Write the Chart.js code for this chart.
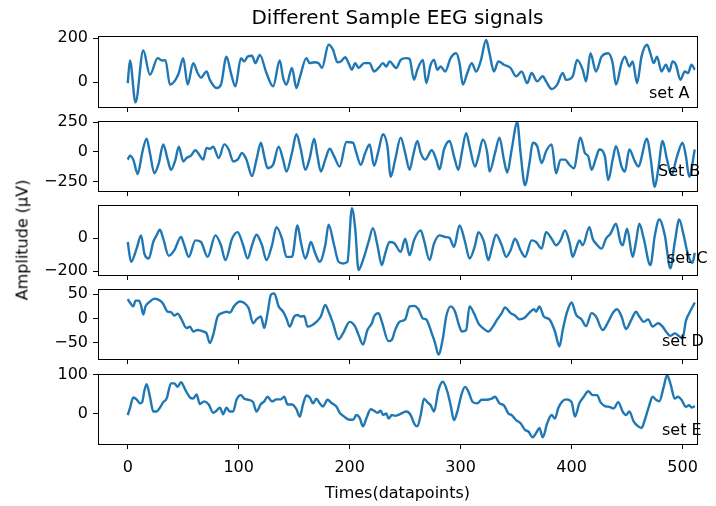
<!DOCTYPE html>
<html>
<head>
<meta charset="utf-8">
<script src="https://cdn.jsdelivr.net/npm/chart.js@4.4.1/dist/chart.umd.min.js"></script>
<style>
  html, body { margin: 0; padding: 0; background: #fff; }
  body { width: 716px; height: 506px; position: relative; overflow: hidden; font-family: "DejaVu Sans", sans-serif; }
  .panel { position: absolute; left: 0; width: 716px; }
  .tag { position: absolute; font-size: 16px; line-height: 16px; color: #000; white-space: nowrap; }
  #ylab { position: absolute; left: 22px; top: 240px; font-size: 16px; white-space: nowrap; color: #000;
          transform: translate(-50%, -50%) rotate(-90deg); }
</style>
</head>
<body>
<div class="panel" style="top:0px;height:115px"><canvas id="pA"></canvas></div>
<div class="panel" style="top:111px;height:88px"><canvas id="pB"></canvas></div>
<div class="panel" style="top:195px;height:88px"><canvas id="pC"></canvas></div>
<div class="panel" style="top:279px;height:88px"><canvas id="pD"></canvas></div>
<div class="panel" style="top:364px;height:142px"><canvas id="pE"></canvas></div>
<div id="ylab">Amplitude (μV)</div>
<div class="tag" style="left:649px;top:85px">set A</div>
<div class="tag" style="left:658px;top:163px">Set B</div>
<div class="tag" style="left:667px;top:250px">set C</div>
<div class="tag" style="left:662px;top:333px">set D</div>
<div class="tag" style="left:662px;top:422px">set E</div>
<script>
// values (datapoint index -> amplitude in µV)
var aX = [0,2,7,14,20,27,31,34,38,43,46,50,54,59,63,66,71,74,80,84,89,93,97,102,105,108,112,115,119,125,131,137,140,143,148,152,155,161,164,168,172,175,181,185,189,192,196,199,202,205,208,213,218,222,226,230,233,236,242,246,251,254,258,261,266,269,273,276,279,282,286,291,296,299,302,306,310,314,318,323,326,330,334,339,345,350,355,360,364,369,374,377,382,387,392,395,401,405,410,413,417,422,427,433,437,440,445,448,452,455,459,463,468,471,474,477,481,485,488,491,494,498,502,505,508,511];
var aY = [-5,98,-93,144,33,109,98,100,-12,10,41,109,-12,86,41,20,48,10,-27,-12,116,41,-20,109,94,116,120,86,124,41,-20,98,20,-12,64,-27,20,109,86,90,86,64,170,147,90,94,113,86,56,86,64,86,86,48,64,86,71,94,64,101,109,105,10,56,101,-5,79,101,56,71,48,109,131,86,-12,41,86,48,94,192,131,48,94,79,64,26,48,-5,41,3,26,3,-32,-12,41,10,26,101,56,3,131,48,116,131,86,-12,86,116,71,94,-5,116,170,131,86,116,48,79,48,94,79,10,48,41,79,56];

var bX = [0,2,5,9,13,17,20,24,28,32,36,39,43,46,50,53,57,61,65,68,71,74,77,82,87,91,95,99,103,107,112,116,120,123,126,131,136,140,143,148,152,156,160,164,168,171,174,178,182,186,191,197,203,206,210,214,218,222,226,230,234,237,241,246,250,254,257,261,264,268,274,278,281,285,290,294,298,301,305,308,313,316,320,324,326,331,335,339,342,346,351,354,358,362,365,369,373,377,382,386,390,394,398,402,408,412,415,418,422,425,430,433,437,440,445,448,452,457,460,468,471,475,478,482,486,490,495,500,503,506,511];
var bY = [-66,-32,-66,-187,-9,112,-9,-181,-95,63,-66,-152,-66,43,-81,-52,-32,14,-32,-66,34,26,43,-52,63,20,-81,-66,-9,-66,-204,-66,77,-38,-138,-109,43,-66,-167,-9,149,20,-152,-52,112,-38,-167,-66,26,-38,-124,83,77,-9,-109,-9,63,-118,11,149,48,-210,-66,120,-9,-152,-38,92,-9,-66,14,-66,-147,20,92,-38,-152,-9,158,48,-124,-38,106,-9,-167,-9,120,-66,-175,20,250,-9,-282,-95,77,48,-95,5,63,-181,-66,-66,-109,-138,120,-9,-38,-152,-52,20,-38,-239,-66,48,-124,-167,20,-81,-124,112,-38,-296,-152,92,-66,-196,-38,77,-38,-210,20];

var cX = [0,3,8,12,15,19,23,26,29,32,37,42,48,51,55,61,66,72,79,84,88,94,99,104,108,112,116,121,125,130,134,139,143,148,153,156,160,162,165,169,173,178,181,186,190,194,198,202,205,208,212,217,221,225,229,232,236,240,246,250,254,258,264,267,272,276,281,286,290,294,299,304,308,313,316,321,325,328,332,337,341,345,349,354,358,364,368,373,377,382,386,390,394,398,401,404,407,410,416,419,422,427,431,435,440,444,446,450,455,458,461,465,471,475,479,484,489,493,497,501,505,509,511];
var cY = [-24,-144,-64,16,-94,-124,-24,16,50,-4,-108,-74,6,-44,-114,-14,-24,-114,16,-44,-134,-4,36,-44,-124,-44,20,-44,-134,-44,66,-4,-114,-114,76,-24,-124,-94,-24,-94,-144,-44,80,-44,-144,-154,-144,180,56,-194,-134,-24,60,-44,-164,-94,-24,-30,-84,-4,-104,-14,46,-14,-134,-34,16,6,0,-54,76,-24,-124,-44,36,-24,-134,-64,20,-44,-114,-74,-4,-74,-114,-14,-24,-64,36,-4,-44,-14,46,-24,-114,-64,-14,-44,66,-4,-34,-64,-4,26,86,-24,-44,56,-114,-24,86,-4,-164,16,112,16,-184,-24,112,16,-104,-150,-90];

var dX = [0,2,5,7,10,12,14,16,20,24,29,32,36,39,42,45,48,53,56,59,63,68,71,74,77,81,85,89,92,96,101,105,109,113,116,120,123,126,129,132,136,140,143,146,150,153,156,159,162,166,170,174,178,181,185,190,194,200,205,208,212,216,220,222,226,229,235,238,241,245,250,254,258,262,266,269,274,277,280,284,287,291,295,298,301,305,308,312,316,320,325,329,333,337,340,345,349,353,358,362,366,368,371,375,380,385,389,392,396,400,404,409,413,418,422,428,433,437,441,445,449,454,458,461,465,469,473,478,482,485,489,493,497,500,503,506,511];
var dY = [40,33,25,37,37,27,8,25,35,41,37,30,14,13,6,10,0,-20,-17,-27,-24,-27,-31,-51,-34,4,11,14,12,26,35,32,21,-10,-2,4,-20,11,49,52,25,14,0,-17,4,7,4,5,-17,-14,-7,4,28,14,-10,-43,-31,-7,-17,-34,-54,-24,-10,4,11,-7,-47,-44,-24,-7,-2,25,26,19,0,-2,-31,-51,-75,-41,4,25,14,-10,-27,-24,25,11,-10,-20,-27,-17,-2,11,23,11,6,-2,2,12,19,14,25,4,-2,-27,-58,-24,14,33,8,-2,-16,11,4,-24,-7,11,19,4,-22,-2,14,4,-7,-2,-17,-10,-17,-27,-36,-31,-37,-41,-5,11,33];

var eX = [0,2,5,8,11,13,15,17,20,23,26,29,32,35,39,42,45,48,52,56,59,62,65,69,73,77,80,83,86,89,92,95,98,102,105,109,113,116,120,123,126,130,134,138,141,144,148,152,155,158,161,164,167,170,173,176,180,184,188,191,195,200,203,206,209,212,215,219,222,225,228,230,233,235,238,241,245,251,255,258,261,264,267,270,273,276,280,284,288,291,294,297,301,304,307,311,315,319,323,328,331,335,339,343,346,350,354,358,361,365,368,371,374,378,382,385,388,391,395,400,403,407,411,415,419,423,426,430,434,438,442,446,449,452,456,460,463,466,470,473,476,479,483,486,489,493,496,499,503,506,508,511];
var eY = [-3,15,42,37,27,30,59,76,44,6,6,16,30,39,78,78,69,81,61,42,39,50,25,32,24,3,8,16,-1,16,6,6,36,48,39,36,30,6,25,32,44,32,37,37,44,24,24,12,-7,25,47,42,27,39,27,19,36,27,19,3,-7,-15,-15,-3,-10,-32,-12,12,8,3,8,-3,1,-12,-3,-5,-1,6,-3,-24,-32,-3,39,30,22,6,61,82,57,22,-16,6,52,69,57,30,27,36,36,39,44,27,22,1,-3,-16,-24,-41,-45,-60,-49,-36,-60,-24,-3,-12,15,30,37,30,-7,27,44,58,48,48,30,20,18,14,30,6,-3,6,-20,-32,-36,-15,22,44,36,32,69,99,78,39,44,36,18,22,16,20];

var xTicks = [0, 100, 200, 300, 400, 500];
var aTicks = [0, 200];
var bTicks = [-250, 0, 250];
var cTicks = [-200, 0];
var dTicks = [-50, 0, 50];
var eTicks = [0, 100];

Chart.defaults.font.family = 'DejaVu Sans';
Chart.defaults.font.size = 16;
Chart.defaults.color = '#000';

// box round each axes, like matplotlib spines
var frame = {
  id: 'frame',
  afterDraw: function (chart) {
    var a = chart.chartArea, ctx = chart.ctx;
    ctx.save();
    ctx.strokeStyle = '#000';
    ctx.lineWidth = 1;
    ctx.strokeRect(Math.round(a.left) + 0.5, Math.round(a.top) + 0.5,
                   Math.round(a.right - a.left), Math.round(a.bottom - a.top));
    ctx.restore();
  }
};

function fmt(v) {
  return v < 0 ? '\u2212' + Math.abs(v) : String(v);
}

function panel(id, xs, ys, yMin, yMax, yTicks, o) {
  return new Chart(document.getElementById(id), {
    type: 'line',
    data: {
      datasets: [{
        data: xs.map(function (x, i) { return {x: x, y: ys[i]}; }),
        borderColor: '#1f77b4',
        borderWidth: 2.4,
        pointRadius: 0,
        cubicInterpolationMode: 'monotone',
        fill: false
      }]
    },
    options: {
      responsive: true,
      maintainAspectRatio: false,
      animation: false,
      layout: { padding: { top: o.padTop, right: 19, left: 0, bottom: 0 } },
      plugins: {
        legend: { display: false },
        tooltip: { enabled: false },
        title: o.title || { display: false }
      },
      scales: {
        x: {
          type: 'linear',
          min: -26.8,
          max: 513,
          afterBuildTicks: function (s) { s.ticks = xTicks.map(function (v) { return {value: v}; }); },
          afterFit: function (s) { s.height = o.xH; s.paddingLeft = 0; s.paddingRight = 0; },
          grid: { drawOnChartArea: false, tickLength: 5, color: '#000' },
          border: { display: false },
          ticks: { display: o.xLabels, autoSkip: false, maxRotation: 0, padding: 9 },
          title: o.xTitle || { display: false }
        },
        y: {
          min: yMin,
          max: yMax,
          afterBuildTicks: function (s) { s.ticks = yTicks.map(function (v) { return {value: v}; }); },
          afterFit: function (s) { s.width = 98; s.paddingTop = 0; s.paddingBottom = 0; },
          grid: { drawOnChartArea: false, tickLength: 5, color: '#000' },
          border: { display: false },
          ticks: { autoSkip: false, padding: 5, callback: fmt }
        }
      }
    },
    plugins: [frame]
  });
}

panel('pA', aX, aY, -114, 210, aTicks, {
  padTop: 0, xH: 8, xLabels: false,
  title: { display: true, text: 'Different Sample EEG signals', fullSize: false,
           font: { size: 20, weight: 'normal' }, color: '#000', padding: { top: 7, bottom: 5 } }
});
panel('pB', bX, bY, -331, 261, bTicks, { padTop: 10, xH: 8, xLabels: false });
panel('pC', cX, cY, -224, 200, cTicks, { padTop: 10, xH: 8, xLabels: false });
panel('pD', dX, dY, -84, 61, dTicks, { padTop: 10, xH: 8, xLabels: false });
panel('pE', eX, eY, -77, 102, eTicks, {
  padTop: 10, xH: 62, xLabels: true,
  xTitle: { display: true, text: 'Times(datapoints)', font: { size: 16 }, color: '#000', padding: { top: 0, bottom: 3 } }
});
</script>
</body>
</html>
